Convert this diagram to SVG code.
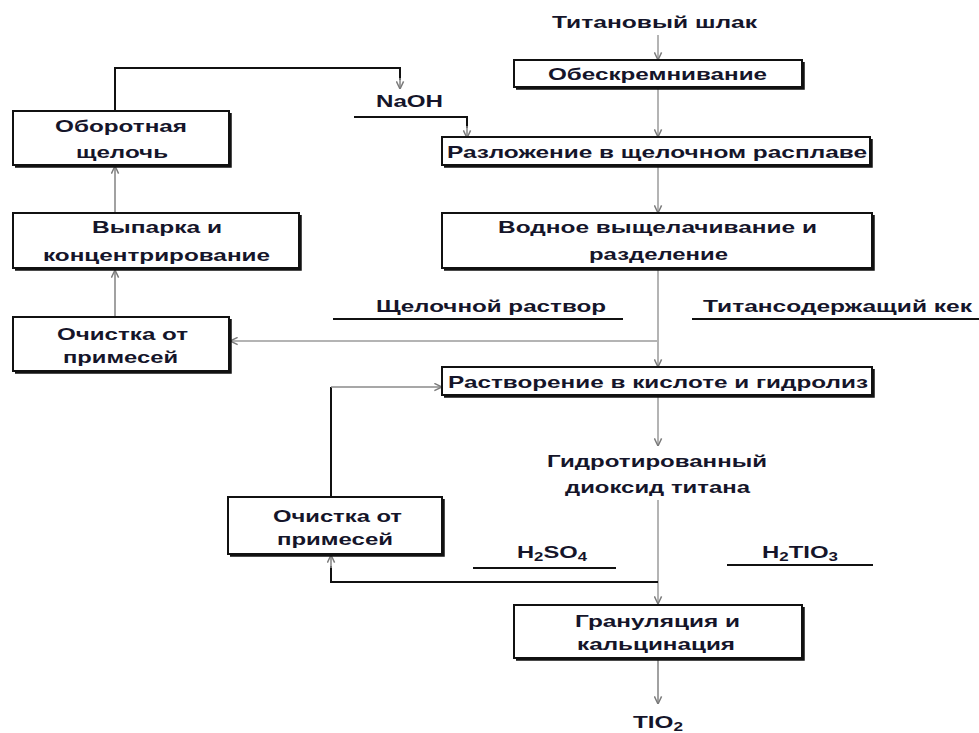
<svg xmlns="http://www.w3.org/2000/svg" width="979" height="733" viewBox="0 0 979 733">
  <style>
    .box { fill: #ffffff; stroke: #111111; stroke-width: 2; }
    .shadow { fill: none; stroke: #111111; stroke-width: 2.5; }
    .t { font-family: "Liberation Sans", Arial, sans-serif; font-weight: bold; font-size: 17px; fill: #15152a; }
    .sub { font-size: 12px; }
    .flow { fill: none; stroke: #b4b4b4; stroke-width: 2; }
    .side { fill: none; stroke: #8a8a8a; stroke-width: 1.6; }
    .loop { fill: none; stroke: #111111; stroke-width: 2; }
    .rule { stroke: #111111; stroke-width: 2; }
  </style>
  <defs>
    <marker id="chev" viewBox="0 0 10 10" refX="9.5" refY="5" markerWidth="9" markerHeight="9" markerUnits="userSpaceOnUse" orient="auto">
      <path d="M1,1 L9.5,5 L1,9" fill="none" stroke="#7a7a7a" stroke-width="1.6"/>
    </marker>
  </defs>

  <rect width="979" height="733" fill="#ffffff"/>

  <!-- connectors -->
  <g id="connectors">
    <!-- main vertical flow -->
    <line class="flow" x1="658" y1="35" x2="658" y2="60" marker-end="url(#chev)"/>
    <line class="flow" x1="658" y1="89" x2="658" y2="137" marker-end="url(#chev)"/>
    <line class="flow" x1="658" y1="167" x2="658" y2="213" marker-end="url(#chev)"/>
    <line class="flow" x1="658" y1="270" x2="658" y2="367" marker-end="url(#chev)"/>
    <line class="flow" x1="658" y1="397" x2="658" y2="446" marker-end="url(#chev)"/>
    <line class="flow" x1="658" y1="500" x2="658" y2="604" marker-end="url(#chev)"/>
    <line class="side" x1="658" y1="660" x2="658" y2="704" marker-end="url(#chev)"/>
    <!-- alkaline solution branch -->
    <line class="flow" x1="658" y1="341" x2="230" y2="341" marker-end="url(#chev)"/>
    <!-- alkali regeneration chain -->
    <line class="side" x1="115" y1="317" x2="115" y2="270" marker-end="url(#chev)"/>
    <line class="side" x1="115" y1="213" x2="115" y2="166" marker-end="url(#chev)"/>
    <path class="loop" d="M115,111 V68 H400 V80"/>
    <line class="side" x1="400" y1="78" x2="400" y2="89" marker-end="url(#chev)"/>
    <path class="loop" d="M354,117 H467 V128"/>
    <line class="side" x1="467" y1="126" x2="467" y2="138" marker-end="url(#chev)"/>
    <!-- acid recycle loop -->
    <path class="loop" d="M658,582 H331 V566"/>
    <line class="side" x1="331" y1="568" x2="331" y2="555" marker-end="url(#chev)"/>
    <path class="loop" d="M331,497 V387"/>
    <line class="side" x1="331" y1="387" x2="442" y2="387" marker-end="url(#chev)"/>
  </g>

  <!-- feed -->
  <g id="feed">
    <text class="t" x="552" y="28" textLength="205" lengthAdjust="spacingAndGlyphs">Титановый шлак</text>
  </g>

  <g id="desilication">
    <rect class="box" x="514" y="60" width="288" height="27"/>
    <path class="shadow" d="M516,88.5 H803.5 V62"/>
    <text class="t" x="548" y="80" textLength="219" lengthAdjust="spacingAndGlyphs">Обескремнивание</text>
  </g>

  <g id="naoh">
    <text class="t" x="376" y="107" textLength="67" lengthAdjust="spacingAndGlyphs">NaOH</text>
    <line class="rule" x1="354" y1="117" x2="467" y2="117"/>
  </g>

  <g id="fusion">
    <rect class="box" x="442" y="137" width="428" height="28"/>
    <path class="shadow" d="M444,166.5 H871.5 V139"/>
    <text class="t" x="447" y="158" textLength="420" lengthAdjust="spacingAndGlyphs">Разложение в щелочном расплаве</text>
  </g>

  <g id="leaching">
    <rect class="box" x="442" y="213" width="430" height="55"/>
    <path class="shadow" d="M444,269.5 H873.5 V215"/>
    <text class="t" x="498" y="233" textLength="319" lengthAdjust="spacingAndGlyphs">Водное выщелачивание и</text>
    <text class="t" x="589" y="260" textLength="139" lengthAdjust="spacingAndGlyphs">разделение</text>
  </g>

  <g id="alkaline-solution">
    <text class="t" x="376" y="312" textLength="230" lengthAdjust="spacingAndGlyphs">Щелочной раствор</text>
    <line class="rule" x1="333" y1="319" x2="623" y2="319"/>
  </g>

  <g id="ti-cake">
    <text class="t" x="703" y="312" textLength="269" lengthAdjust="spacingAndGlyphs">Титансодержащий кек</text>
    <line class="rule" x1="692" y1="319" x2="979" y2="319"/>
  </g>

  <g id="recycled-alkali">
    <rect class="box" x="13" y="111" width="216" height="54"/>
    <path class="shadow" d="M15,166.5 H230.5 V113"/>
    <text class="t" x="55" y="132" textLength="132" lengthAdjust="spacingAndGlyphs">Оборотная</text>
    <text class="t" x="76" y="158" textLength="92" lengthAdjust="spacingAndGlyphs">щелочь</text>
  </g>

  <g id="evaporation">
    <rect class="box" x="13" y="213" width="286" height="55"/>
    <path class="shadow" d="M15,269.5 H300.5 V215"/>
    <text class="t" x="92" y="233" textLength="130" lengthAdjust="spacingAndGlyphs">Выпарка и</text>
    <text class="t" x="43" y="261" textLength="227" lengthAdjust="spacingAndGlyphs">концентрирование</text>
  </g>

  <g id="purification-1">
    <rect class="box" x="13" y="317" width="216" height="54"/>
    <path class="shadow" d="M15,372.5 H230.5 V319"/>
    <text class="t" x="57" y="340" textLength="131" lengthAdjust="spacingAndGlyphs">Очистка от</text>
    <text class="t" x="63" y="363" textLength="115" lengthAdjust="spacingAndGlyphs">примесей</text>
  </g>

  <g id="acid-hydrolysis">
    <rect class="box" x="442" y="367" width="430" height="28"/>
    <path class="shadow" d="M444,396.5 H873.5 V369"/>
    <text class="t" x="448" y="388" textLength="420" lengthAdjust="spacingAndGlyphs">Растворение в кислоте и гидролиз</text>
  </g>

  <g id="hydrated-dioxide">
    <text class="t" x="547" y="467" textLength="220" lengthAdjust="spacingAndGlyphs">Гидротированный</text>
    <text class="t" x="565" y="493" textLength="185" lengthAdjust="spacingAndGlyphs">диоксид титана</text>
  </g>

  <g id="purification-2">
    <rect class="box" x="228" y="497" width="214" height="57"/>
    <path class="shadow" d="M230,555.5 H443.5 V499"/>
    <text class="t" x="273" y="522" textLength="129" lengthAdjust="spacingAndGlyphs">Очистка от</text>
    <text class="t" x="277" y="545" textLength="116" lengthAdjust="spacingAndGlyphs">примесей</text>
  </g>

  <g id="sulfuric-acid">
    <text class="t" x="517" y="558" textLength="70" lengthAdjust="spacingAndGlyphs">H<tspan class="sub" dy="3">2</tspan><tspan dy="-3">SO</tspan><tspan class="sub" dy="3">4</tspan></text>
    <line class="rule" x1="473" y1="568" x2="616" y2="568"/>
  </g>

  <g id="metatitanic-acid">
    <text class="t" x="762" y="558" textLength="76" lengthAdjust="spacingAndGlyphs">H<tspan class="sub" dy="3">2</tspan><tspan dy="-3">TIO</tspan><tspan class="sub" dy="3">3</tspan></text>
    <line class="rule" x1="727" y1="565" x2="873" y2="565"/>
  </g>

  <g id="calcination">
    <rect class="box" x="514" y="605" width="288" height="53"/>
    <path class="shadow" d="M516,659.5 H803.5 V607"/>
    <text class="t" x="575" y="627" textLength="165" lengthAdjust="spacingAndGlyphs">Грануляция и</text>
    <text class="t" x="577" y="650" textLength="158" lengthAdjust="spacingAndGlyphs">кальцинация</text>
  </g>

  <g id="product">
    <text class="t" x="633" y="728" textLength="50" lengthAdjust="spacingAndGlyphs">TIO<tspan class="sub" dy="3">2</tspan></text>
  </g>
</svg>
